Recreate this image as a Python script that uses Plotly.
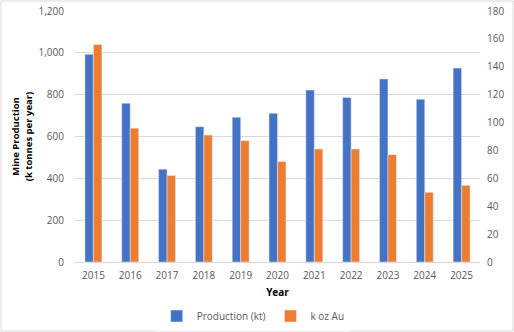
import plotly.graph_objects as go

years = ["2015", "2016", "2017", "2018", "2019", "2020", "2021", "2022", "2023", "2024", "2025"]
production_kt = [993, 759, 444, 647, 692, 711, 822, 787, 875, 778, 927]
koz_au = [156, 96, 62, 91, 87, 72, 81, 81, 77, 50, 55]

FONT = "Open Sans"
TICK_COLOR = "#595959"

fig = go.Figure()
fig.add_trace(go.Bar(x=years, y=production_kt, name="Production (kt)",
                     marker_color="#4472C4", offsetgroup="a", yaxis="y"))
fig.add_trace(go.Bar(x=years, y=koz_au, name="k oz Au",
                     marker_color="#ED7D31", offsetgroup="b", yaxis="y2"))

L, R, T, B = 75, 34, 11, 70
W, H = 514, 332
pw, ph = W - L - R, H - T - B

fig.update_layout(
    width=W, height=H,
    margin=dict(l=L, r=R, t=T, b=B, autoexpand=False),
    paper_bgcolor="white", plot_bgcolor="white",
    font=dict(family=FONT, size=10, color=TICK_COLOR),
    barmode="group", bargap=0.54, bargroupgap=0,
    showlegend=True,
    legend=dict(orientation="h", x=0.44, xanchor="center",
                y=-(316 - 262) / ph, yanchor="middle",
                font=dict(size=10, color=TICK_COLOR), itemwidth=30,
                tracegroupgap=0),
    xaxis=dict(
        title=dict(text="<b>Year</b>", font=dict(size=10, color="black"), standoff=7),
        automargin=False,
        showgrid=False, showline=True, linecolor="#D9D9D9", linewidth=1,
        ticks="", tickfont=dict(size=10, color=TICK_COLOR), ticklabelstandoff=4,
    ),
    yaxis=dict(
        title=dict(text="<b>Mine Production<br>(k tonnes per year)</b>",
                   font=dict(size=9.5, color="black"), standoff=4),
        automargin=False,
        range=[0, 1200], dtick=200, tickformat=",",
        showgrid=True, gridcolor="#D9D9D9", zeroline=False,
        showline=False, ticks="", tickfont=dict(size=10, color=TICK_COLOR),
        ticklabelstandoff=10,
    ),
    yaxis2=dict(
        overlaying="y", side="right", range=[0, 180], dtick=20,
        automargin=False,
        showgrid=False, zeroline=False, showline=False, ticks="",
        tickfont=dict(size=10, color=TICK_COLOR), ticklabelstandoff=6,
    ),
    shapes=[dict(type="rect", xref="paper", yref="paper",
                 x0=-(L - 1) / pw, x1=1 + (R - 1) / pw,
                 y0=-(B - 1) / ph, y1=1 + (T - 1) / ph,
                 line=dict(color="#D9D9D9", width=1))],
)

fig.write_html("out.html")
